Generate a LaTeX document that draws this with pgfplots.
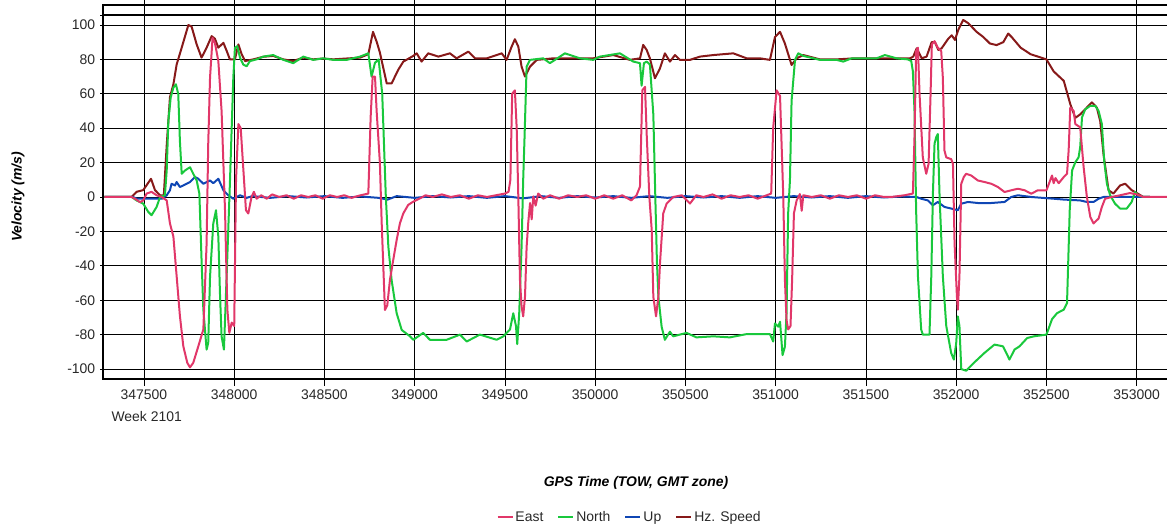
\documentclass[border=0pt]{standalone}
\usepackage{pgfplots}
\pgfplotsset{compat=1.18}
\usepackage{fontspec}
\setmainfont{Liberation Sans}

\definecolor{eastc}{RGB}{225,55,105}
\definecolor{northc}{RGB}{25,200,60}
\definecolor{upc}{RGB}{15,70,180}
\definecolor{hzc}{RGB}{135,25,25}
\definecolor{txt}{RGB}{40,40,40}

\begin{document}
\begin{tikzpicture}
\useasboundingbox (0,0) rectangle (1167bp,531bp);
\begin{axis}[
  at={(103bp,152bp)}, anchor=south west,
  scale only axis, width=1066bp, height=374bp,
  xmin=347273, xmax=353179, ymin=-105.8, ymax=111.6,
  clip mode=individual,
  scaled x ticks=false, scaled y ticks=false,
  xtick={347500,348000,348500,349000,349500,350000,350500,351000,351500,352000,352500,353000},
  xticklabels={347500,348000,348500,349000,349500,350000,350500,351000,351500,352000,352500,353000},
  ytick={-100,-80,-60,-40,-20,0,20,40,60,80,100},
  yticklabels={-100,-80,-60,-40,-20,0,20,40,60,80,100},
  extra y ticks={105.8}, extra y tick labels={},
  extra y tick style={grid=major, major grid style={black, line width=1.6bp}, major tick length=0pt},
  grid=major,
  major grid style={black, line width=0.9bp},
  axis line style={black, line width=2bp},
  tick align=outside,
  xtick style={black, line width=0.9bp, /pgfplots/major tick length=7bp},
  ytick style={black, line width=0.9bp, /pgfplots/major tick length=3bp},
  ticklabel style={font=\fontsize{14}{16}\selectfont, text=txt},
  xticklabel style={yshift=-3bp},
  xlabel={\textbf{\textit{GPS Time (TOW, GMT zone)}}},
  ylabel={\textbf{\textit{Velocity (m/s)}}},
  label style={font=\fontsize{14}{16}\selectfont, text=black},
  xlabel style={at={(axis description cs:0.5,-0.278)}, anchor=center},
  ylabel style={at={(axis description cs:-0.0797,0.487)}, anchor=center},
  legend columns=4,
  legend style={draw=none, fill=none, at={(0.494,-0.369)}, anchor=center,
    font=\fontsize{14}{16}\selectfont, text=txt,
    /tikz/every even column/.append style={column sep=12bp}},
  legend image code/.code={\draw[#1, line width=2bp] (0bp,0bp) -- (15bp,0bp);},
  every axis plot/.append style={line width=2bp, line join=round},
]
\addlegendimage{eastc}\addlegendentry{East}
\addlegendimage{northc}\addlegendentry{North}
\addlegendimage{upc}\addlegendentry{Up}
\addlegendimage{hzc}\addlegendentry{Hz. Speed}

% Hz. Speed
\addplot[hzc, forget plot] coordinates {
(347280,0) (347432,0) (347459,3) (347496,4) (347539,10.6) (347561,4) (347589,1)
(347610,1) (347626,30) (347644,58) (347663,65.5) (347681,77) (347709,86.8)
(347746,100) (347764,99) (347792,88.7) (347819,81) (347847,86.8) (347875,93.5)
(347893,92) (347912,86.8) (347940,89.6) (347958,85) (347976,80) (348004,80)
(348023,88.7) (348041,83) (348060,79) (348106,80) (348161,81.5) (348216,82)
(348272,80) (348327,79) (348383,81) (348438,80) (348493,80.5) (348549,80)
(348623,80.5) (348697,81) (348743,83) (348769,96) (348790,90) (348807,84)
(348845,66) (348872,66) (348909,74) (348937,78.7) (348992,82) (349011,83.5)
(349038,78.7) (349075,83.5) (349131,81.6) (349195,83.5) (349232,80.6)
(349297,84.5) (349334,80.6) (349399,80.6) (349482,83.5) (349509,79.7)
(349537,87.4) (349555,91.7) (349574,87.4) (349592,75.8) (349611,70)
(349639,75.8) (349676,79.7) (349768,80.6) (349878,80.6) (349989,80.6)
(350100,82.5) (350192,79.7) (350248,80.6) (350266,88.4) (350285,85.5)
(350303,80.6) (350331,69) (350359,74.8) (350386,83.5) (350414,78.7)
(350442,82.5) (350469,79.7) (350525,79.7) (350580,81.6) (350654,82.5)
(350765,83.5) (350839,80.6) (350913,80.6) (350968,79.7) (350996,93)
(351024,96) (351051,89.2) (351088,76.7) (351116,80.6) (351153,82.5)
(351245,80) (351338,80) (351421,80.5) (351559,80.5) (351670,80.5)
(351744,80.6) (351762,81.6) (351781,86.4) (351809,80.6) (351836,81.6)
(351864,90) (351882,90) (351901,85.5) (351919,86.4) (351956,92) (351975,94)
(351993,91.3) (352011,97) (352039,102.9) (352067,101) (352113,96) (352150,93)
(352187,89.2) (352224,88.3) (352261,90) (352288,95) (352307,93) (352357,86.8)
(352412,83) (352500,80) (352540,73) (352596,67.5) (352632,54) (352660,46)
(352687,48) (352724,52) (352752,55) (352779,52) (352798,44) (352816,25)
(352844,3.9) (352871,2) (352908,6.7) (352936,7.7) (352972,4) (353000,2.3)
(353037,0) (353073,0)
};

% Up
\addplot[upc, forget plot] coordinates {
(347280,0) (347440,0) (347460,-1) (347600,-1) (347626,1) (347644,3.9)
(347653,7.7) (347672,6.7) (347681,8.7) (347699,5.8) (347718,6.7) (347755,8.7)
(347783,11.6) (347801,10.6) (347829,7.7) (347866,9.6) (347884,8) (347912,10.6)
(347940,3.9) (347967,1) (347995,-1) (348032,1) (348069,-0.5) (348100,0.5)
(348200,-0.5) (348300,0.5) (348400,-0.3) (348500,0.5) (348600,-0.5)
(348700,0.3) (348800,-0.5) (348850,-1.5) (348900,0.5) (349000,-0.5)
(349100,0.5) (349200,-0.3) (349300,0.5) (349400,-0.5) (349500,0.5)
(349600,-0.8) (349700,0.5) (349800,-0.5) (349900,0.5) (350000,-0.3)
(350100,0.5) (350200,-0.5) (350300,0.5) (350400,-0.5) (350500,0.5)
(350600,-0.3) (350700,0.5) (350800,-0.5) (350900,0.5) (351000,-0.5)
(351100,0.5) (351200,-0.3) (351300,0.5) (351400,-0.5) (351500,0.5)
(351600,-0.3) (351700,0.3) (351780,0) (351806,-1) (351843,-2) (351871,-4.8)
(351898,-2.9) (351935,-5.8) (351972,-6.7) (352009,-7.7) (352028,-3.9)
(352065,-2.9) (352120,-3.5) (352194,-3.5) (352268,-2.9) (352305,0)
(352342,1) (352416,0) (352540,-1) (352596,-1.5) (352687,-2) (352724,-2.9)
(352761,-2.9) (352789,-1) (352816,0) (353073,0)
};

% North
\addplot[northc, forget plot] coordinates {
(347280,0) (347432,0) (347459,-2) (347496,-3.9) (347524,-8.7) (347542,-10.6)
(347570,-5.8) (347589,0) (347616,1) (347626,15.4) (347635,44) (347648,57.8)
(347663,63.6) (347677,65.5) (347690,59.8) (347699,32.8) (347709,13.5)
(347727,15.4) (347755,17.3) (347773,13.5) (347792,9.6) (347807,1.9)
(347819,-36.6) (347829,-65.5) (347847,-88.7) (347856,-84.8) (347866,-46.3)
(347884,-15.4) (347899,-7.7) (347912,-23) (347921,-56) (347930,-81)
(347943,-88.7) (347958,-46) (347976,7.7) (347995,69.4) (348004,86.8)
(348017,87.7) (348032,81) (348050,77) (348069,76) (348087,79) (348124,80)
(348161,81.6) (348216,82.5) (348272,79.7) (348327,77.8) (348383,81.6)
(348438,79.7) (348493,80.6) (348549,79.7) (348623,79.7) (348697,81.6)
(348743,83.5) (348761,70) (348780,78) (348800,80) (348820,60) (348840,0)
(348854,-28.9) (348872,-48.3) (348900,-67.6) (348928,-77.3) (348974,-81)
(348992,-83) (349047,-79) (349084,-83) (349177,-83) (349251,-80) (349288,-84)
(349361,-80) (349454,-83) (349491,-81) (349528,-77) (349546,-67.6)
(349561,-75) (349568,-85.5) (349579,-67.6) (349592,-29) (349601,10)
(349608,33) (349620,75.8) (349639,79.7) (349712,80.6) (349749,77.8)
(349805,81.6) (349832,83.5) (349916,80.6) (349989,79.7) (350026,81.6)
(350137,83.5) (350211,78.7) (350248,77.8) (350257,64.7) (350270,77.8)
(350285,78.7) (350303,77) (350322,48) (350333,0) (350342,-38) (350350,-58)
(350368,-75.4) (350386,-83) (350414,-78.3) (350432,-81) (350506,-79)
(350561,-81.6) (350654,-81) (350746,-81.6) (350839,-79.7) (350968,-79.7)
(350986,-84) (350996,-73.5) (351014,-75.4) (351024,-72.5) (351038,-91.9)
(351051,-87) (351060,-67.6) (351069,-9.5) (351079,10) (351088,56)
(351107,79.7) (351125,83.5) (351153,82) (351245,79.7) (351338,79.7)
(351374,78.7) (351421,80.6) (351485,80.6) (351559,80.6) (351605,82.5)
(351670,80.6) (351732,80) (351751,79) (351760,73) (351769,50) (351778,-7.7)
(351788,-46) (351806,-77) (351815,-80) (351852,-80) (351862,-46) (351871,2)
(351880,31) (351889,34.7) (351898,36.6) (351908,0) (351926,-46) (351945,-75)
(351972,-90.6) (351987,-94.5) (352000,-85) (352009,-69.4) (352018,-75)
(352028,-100) (352055,-101) (352102,-96) (352157,-90.6) (352212,-85.8)
(352259,-86.8) (352286,-92.5) (352295,-94.5) (352323,-88.7) (352351,-86.8)
(352393,-82) (352430,-81) (352500,-80) (352531,-71) (352559,-67.5)
(352596,-65.5) (352614,-61.7) (352629,-7.7) (352642,15.4) (352660,20.2)
(352678,23) (352687,29) (352697,46.3) (352715,51) (352743,53) (352770,53)
(352789,50) (352807,42.4) (352820,21) (352835,7.7) (352853,1) (352880,-3.9)
(352908,-6.7) (352945,-6.7) (352972,-2.9) (352991,2.9) (353009,1)
(353037,0) (353073,0)
};

% East
\addplot[eastc, forget plot] coordinates {
(347280,0) (347432,0) (347450,-1) (347478,-3) (347496,-2) (347515,2)
(347542,3) (347570,1) (347598,0) (347626,-2) (347644,-15.4) (347663,-23)
(347681,-46) (347699,-69) (347718,-86.8) (347740,-96.4) (347755,-99)
(347773,-96.4) (347801,-86.8) (347829,-77) (347847,-27) (347856,30.8)
(347866,69.4) (347880,92.5) (347893,89.6) (347912,79) (347930,50)
(347949,-7.7) (347962,-65.5) (347973,-79) (347986,-73) (348000,-75)
(348010,10) (348023,42.4) (348036,40) (348050,17) (348065,-7.7)
(348078,-9.6) (348096,0) (348109,3) (348124,-1) (348150,1) (348180,-1)
(348210,1.5) (348250,0) (348290,1) (348330,-1) (348370,1) (348410,0)
(348450,1) (348490,-1) (348530,1) (348570,0) (348610,1) (348650,-0.5)
(348700,1) (348743,2) (348756,46.7) (348767,70) (348780,70) (348789,50)
(348807,20) (348817,-15) (348835,-65.7) (348848,-63) (348863,-48)
(348881,-36.6) (348900,-25) (348918,-15.3) (348937,-9.5) (348964,-4.6)
(348992,-2.7) (349029,-0.8) (349060,1) (349100,0) (349150,1.5) (349200,0)
(349250,1) (349300,-1) (349350,1) (349400,0) (349450,1) (349500,2)
(349520,3) (349530,10) (349540,60) (349555,62) (349565,40) (349574,0)
(349583,-48) (349592,-63.5) (349601,-69.4) (349611,-58) (349620,-29)
(349629,-15) (349639,-3.5) (349648,-13) (349657,0.4) (349670,-5) (349684,2)
(349712,-1) (349750,1) (349800,-1) (349850,1) (349900,0) (349950,1)
(350000,-1) (350050,1) (350100,-1) (350150,1) (350200,-2) (350229,1)
(350248,6) (350261,62) (350276,64) (350285,37) (350300,0) (350313,-19)
(350322,-58) (350337,-69.4) (350350,-58) (350359,-38.5) (350377,-9.5)
(350396,-3.8) (350432,0) (350480,1) (350525,-3.8) (350560,1) (350600,0)
(350650,1.5) (350700,-1) (350750,1) (350800,0) (350850,1) (350900,-1)
(350950,1) (350975,2) (350986,40) (351005,62) (351024,58.7) (351042,0)
(351051,-48) (351060,-71.5) (351069,-77) (351082,-75) (351091,-48)
(351101,-9.5) (351116,-2) (351134,1.7) (351144,-8) (351153,1) (351200,0)
(351250,1) (351300,-1) (351350,1) (351400,0) (351450,1) (351500,-1)
(351550,1) (351600,0) (351640,0) (351714,1) (351760,2) (351769,34.7)
(351778,84.8) (351788,86.8) (351797,59.8) (351815,23) (351834,13.5)
(351847,19.3) (351858,59.8) (351865,88.7) (351880,90.6) (351898,86.8)
(351917,84.8) (351926,69.4) (351935,27) (351945,23) (351972,22)
(351982,19.3) (351991,-27) (352004,-57.8) (352009,-65.5) (352018,-46)
(352028,7.7) (352042,11.6) (352055,13.5) (352083,12.5) (352120,9.6)
(352157,8.7) (352194,7.7) (352231,5.8) (352268,2.9) (352305,3.9)
(352342,4.8) (352379,3.9) (352416,1.9) (352452,3.9) (352500,3.9)
(352531,12.5) (352540,8) (352550,11) (352568,8) (352596,11.6) (352614,13.5)
(352623,27) (352632,52) (352651,50) (352660,42.4) (352687,40.5)
(352706,17.4) (352724,0) (352743,-11.6) (352761,-15.4) (352789,-12.5)
(352807,-5.8) (352825,-1) (352862,0) (352908,1) (352963,2.3) (353000,1.5)
(353037,0) (353180,0)
};

\node[anchor=west, font=\fontsize{14}{16}\selectfont, text=txt]
  at (axis description cs:0.0047,-0.1016) {Week 2101};
\end{axis}
\end{tikzpicture}
\end{document}
